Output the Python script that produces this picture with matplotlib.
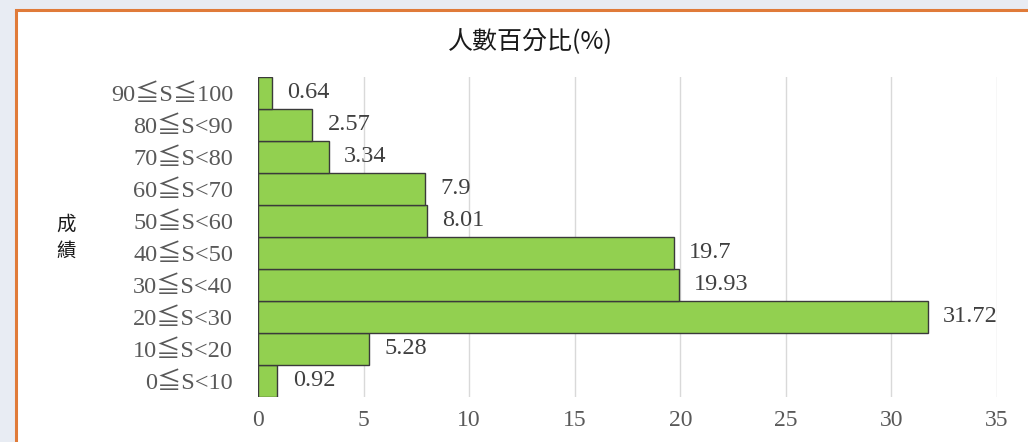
import matplotlib
matplotlib.use("Agg")
import matplotlib.pyplot as plt
from matplotlib.patches import Rectangle

categories = ["0≦S<10", "10≦S<20", "20≦S<30", "30≦S<40", "40≦S<50",
              "50≦S<60", "60≦S<70", "70≦S<80", "80≦S<90", "90≦S≦100"]
values = [0.92, 5.28, 31.72, 19.93, 19.7, 8.01, 7.9, 3.34, 2.57, 0.64]
value_labels = ["0.92", "5.28", "31.72", "19.93", "19.7", "8.01", "7.9", "3.34", "2.57", "0.64"]
xticks = [0, 5, 10, 15, 20, 25, 30, 35]
title = "人數百分比(%)"
ylabel = "成\n績"

W, H = 1028, 442
fig = plt.figure(figsize=(W / 100, H / 100), dpi=100)
fig.patch.set_facecolor("#e8ecf3")

# white panel with orange border
panel = Rectangle((15.5 / W, -0.05), 1.1, (H - 10) / H + 0.05, transform=fig.transFigure,
                  facecolor="white", edgecolor="#e07b39", linewidth=2.2, zorder=-10)
fig.patches.append(panel)

serif = ["Liberation Serif", "Noto Sans CJK TC", "DejaVu Serif"]
cjk = ["Noto Sans CJK TC", "DejaVu Sans"]

left, right = 258 / W, 997 / W
top, bottom = 1 - 77 / H, 1 - 397 / H
ax = fig.add_axes([left, bottom, right - left, top - bottom])
ax.set_zorder(5)
ax.set_facecolor("none")

ypos = list(range(len(categories)))
ax.barh(ypos, values, height=1.0, color="#92d050", edgecolor="#3a3a3a", linewidth=1.0, zorder=3)
for y, v, lab in zip(ypos, values, value_labels):
    ax.text(v + 0.72, y, lab, va="center", ha="left", fontsize=17.5, color="#404040",
            family=serif, zorder=4)

ax.set_xlim(0, 35)
ax.set_ylim(-0.5, len(categories) - 0.5)
ax.set_xticks(xticks)
ax.set_xticklabels([str(t) for t in xticks], family=serif, fontsize=17, color="#595959")
ax.set_yticks(ypos)
ax.set_yticklabels(categories, family=serif, fontsize=17.5, color="#595959")
ax.tick_params(axis="both", length=0)
ax.tick_params(axis="x", pad=9)
ax.tick_params(axis="y", pad=18)
ax.grid(axis="x", color="#d9d9d9", linewidth=1.0, zorder=0)
ax.set_axisbelow(True)
for s in ax.spines.values():
    s.set_visible(False)

fig.text(530 / W, 1 - 42 / H, title, ha="center", va="center", fontsize=18,
         family=cjk, color="#1a1a1a")
fig.text(66 / W, 1 - 238 / H, ylabel, ha="center", va="center", fontsize=14,
         family=cjk, color="#1a1a1a", linespacing=1.4)

fig.savefig("out.png", dpi=100, facecolor=fig.get_facecolor())
